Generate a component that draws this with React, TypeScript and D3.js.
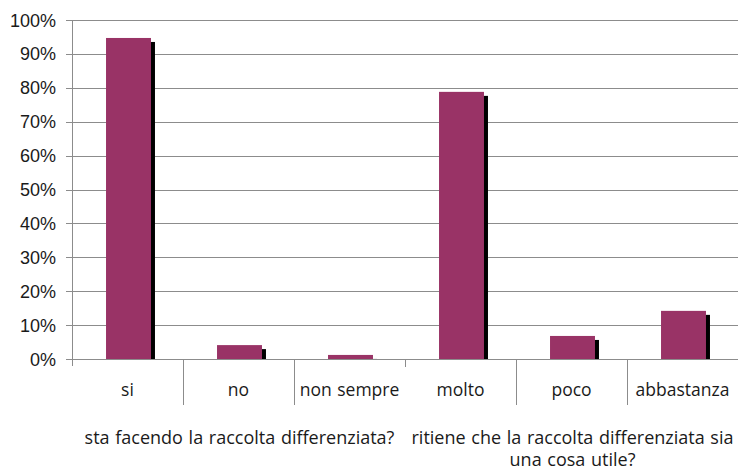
import React from "react";
import * as d3 from "d3";

const categories = ["si", "no", "non sempre", "molto", "poco", "abbastanza"];
const values = [0.947, 0.041, 0.012, 0.788, 0.068, 0.142];
const groupLabels = [
  ["sta facendo la raccolta differenziata?"],
  ["ritiene che la raccolta differenziata sia", "una cosa utile?"],
];
const groupSizes = [3, 3];
const yTicks = [0, 0.1, 0.2, 0.3, 0.4, 0.5, 0.6, 0.7, 0.8, 0.9, 1.0];

const W = 738;
const H = 472;
const left = 72;
const right = 738;
const top = 20;
const bottom = 359;

export default function App() {
  const x = d3.scaleBand<string>().domain(categories).range([left, right]).paddingInner(0).paddingOuter(0);
  const y = d3.scaleLinear().domain([0, 1]).range([bottom, top]);
  const bw = x.bandwidth();
  const barW = bw * 0.405;
  const off = 4;
  const fmt = d3.format(".0%");
  const catFont = "'Open Sans', 'Noto Sans', sans-serif";
  let acc = 0;
  const groups = groupSizes.map((n, i) => {
    const start = left + acc * bw;
    acc += n;
    const end = left + acc * bw;
    return { start, end, lines: groupLabels[i] };
  });
  return (
    <svg width={W} height={H} style={{ position: "absolute", left: 0, top: 0, background: "#fff" }}>
      <defs>
        <clipPath id="plot">
          <rect x={left} y={0} width={right - left} height={bottom - 0} />
        </clipPath>
      </defs>
      {yTicks.map((t) => (
        <g key={t}>
          <line x1={left - 6} x2={right} y1={Math.round(y(t)) + 0.5} y2={Math.round(y(t)) + 0.5} stroke="#8c8c8c" strokeWidth={1} />
          <text x={56} y={y(t) + 6.5} textAnchor="end" fontFamily="'Liberation Sans', Arial, sans-serif" fontSize={18} fill="#1a1a1a">
            {fmt(t)}
          </text>
        </g>
      ))}
      <line x1={left + 0.5} x2={left + 0.5} y1={top} y2={bottom + 7} stroke="#8c8c8c" />
      <g clipPath="url(#plot)">
        {categories.map((c, i) => {
          const cx = (x(c) as number) + bw / 2 + 1;
          return (
            <rect key={"s" + c} x={cx - barW / 2 + off} y={y(values[i]) + off} width={barW} height={bottom - y(values[i])} fill="#000" />
          );
        })}
        {categories.map((c, i) => {
          const cx = (x(c) as number) + bw / 2 + 1;
          return (
            <rect key={"b" + c} x={cx - barW / 2} y={y(values[i])} width={barW} height={bottom - y(values[i])} fill="#993366" />
          );
        })}
      </g>
      {categories.map((c, i) => {
        if (i === 0) return null;
        const xx = Math.round(x(c) as number) + 0.5;
        const isGroup = i === 3;
        return <line key={"sep" + c} x1={xx} x2={xx} y1={bottom} y2={isGroup ? bottom + 8 : 405} stroke="#8c8c8c" />;
      })}
      {categories.map((c) => (
        <text key={"t" + c} x={(x(c) as number) + bw / 2} y={396} textAnchor="middle" fontFamily={catFont} fontSize={17.5} wordSpacing={1} fill="#1a1a1a">
          {c}
        </text>
      ))}
      {groups.map((g, i) =>
        g.lines.map((l, j) => (
          <text key={"g" + i + j} x={(g.start + g.end) / 2 + 1} y={444 + j * 22} textAnchor="middle" fontFamily={catFont} fontSize={18} wordSpacing={1} fill="#1a1a1a">
            {l}
          </text>
        ))
      )}
    </svg>
  );
}
